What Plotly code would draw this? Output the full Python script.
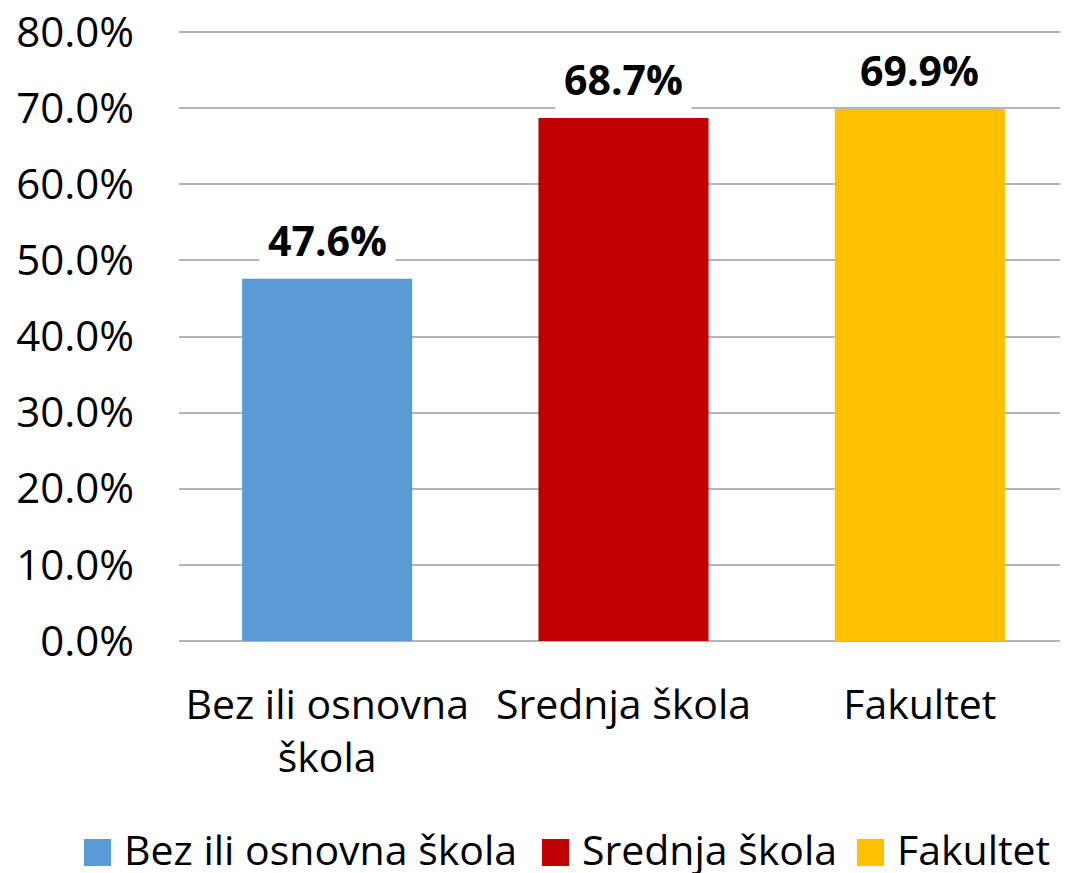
import plotly.graph_objects as go

categories = ["Bez ili osnovna škola", "Srednja škola", "Fakultet"]
tick_labels = ["Bez ili osnovna<br>škola", "Srednja škola", "Fakultet"]
values = [0.476, 0.687, 0.699]
colors = ["#5B9BD5", "#C00000", "#FFC000"]
y_ticks = [0.0, 0.1, 0.2, 0.3, 0.4, 0.5, 0.6, 0.7, 0.8]

FONT = "Open Sans"
OFF = 8  # page body margin offset
YMAX = 0.804  # slightly above 0.8 so the top gridline is drawn
W, H = 1068 - OFF, 873 - OFF
PH = 609 * YMAX / 0.8
ML, MR = 179 - OFF, 0
MT = (32 - OFF) - (PH - 609)
MB = H - MT - PH
PW = W - ML - MR

fig = go.Figure()
fig.add_trace(go.Bar(
    x=list(range(len(categories))), y=values,
    marker=dict(color=colors, line=dict(width=0)),
    width=0.574, showlegend=False, hoverinfo="skip",
))

annotations = []
for i, v in enumerate(values):
    annotations.append(dict(
        x=i, y=v, xref="x", yref="y", text=f"<b>{v*100:.1f}%</b>",
        showarrow=False, yanchor="middle", yshift=39,
        font=dict(family=FONT, size=41, color="#000000"),
        bgcolor="#FFFFFF", borderpad=8,
    ))

# custom legend (reference pixel positions)
def px_x(p):
    return (p - OFF - ML) / PW

def px_y(p):
    return (H - MB - (p - OFF)) / PH

legend_sq_x = [84, 542, 857]
legend_txt_x = [122, 580, 895]
shapes = []
for i, name in enumerate(categories):
    shapes.append(dict(
        type="rect", xref="paper", yref="paper",
        x0=px_x(legend_sq_x[i]), x1=px_x(legend_sq_x[i] + 27),
        y0=px_y(866), y1=px_y(839),
        fillcolor=colors[i], line=dict(width=0),
    ))
    annotations.append(dict(
        x=px_x(legend_txt_x[i]), y=px_y(849), xref="paper", yref="paper",
        text=name, showarrow=False, xanchor="left", yanchor="middle",
        font=dict(family=FONT, size=41, color="#000000"),
    ))

fig.update_layout(
    width=W, height=H,
    margin=dict(l=ML, r=MR, t=MT, b=MB, pad=0, autoexpand=False),
    paper_bgcolor="#FFFFFF", plot_bgcolor="#FFFFFF",
    font=dict(family=FONT, size=41, color="#000000"),
    xaxis=dict(
        tickmode="array", tickvals=list(range(len(categories))), ticktext=tick_labels,
        range=[-0.5, 2.5], showgrid=False, zeroline=False, showline=False,
        ticks="", ticklabelstandoff=36, automargin=False,
        tickfont=dict(family=FONT, size=41, color="#000000"),
    ),
    yaxis=dict(
        range=[0, YMAX], tickmode="array", tickvals=y_ticks,
        ticktext=[f"{t*100:.1f}%" for t in y_ticks],
        showgrid=True, gridcolor="#B5B5B5", gridwidth=1.5,
        zeroline=True, zerolinecolor="#B5B5B5", zerolinewidth=1.5,
        showline=False, ticks="", ticklabelstandoff=44, automargin=False,
        ticklabeloverflow="allow",
        tickfont=dict(family=FONT, size=42, color="#000000"),
    ),
    shapes=shapes,
    annotations=annotations,
)

fig.write_html("out.html")
